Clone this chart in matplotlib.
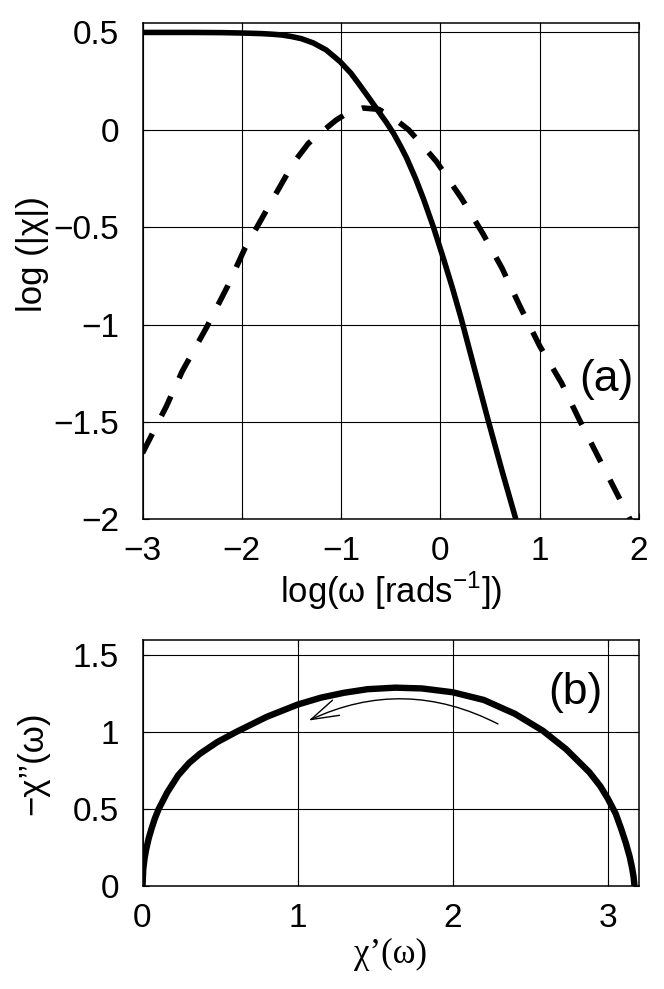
import matplotlib
matplotlib.use("Agg")
import matplotlib.pyplot as plt

plt.rcParams['font.family'] = ['Liberation Sans', 'DejaVu Sans']
plt.rcParams['axes.unicode_minus'] = True

# panel (a): log|chi| (solid) and log chi'' (dashed) against log omega
logw_abs = [-3.0, -2.5, -2.2, -2.0, -1.8, -1.7, -1.6, -1.5, -1.4, -1.28, -1.15, -1.01, -0.9,
            -0.81, -0.7, -0.61, -0.54, -0.47, -0.40, -0.34, -0.25, -0.17, -0.07, 0.03, 0.12,
            0.21, 0.35, 0.48, 0.62, 0.76]
logchi_abs = [0.500, 0.500, 0.499, 0.497, 0.494, 0.491, 0.487, 0.479, 0.468, 0.446, 0.41, 0.35,
              0.29, 0.228, 0.15, 0.085, 0.035, -0.02, -0.085, -0.145, -0.25, -0.355, -0.50,
              -0.66, -0.81, -0.97, -1.24, -1.49, -1.75, -2.00]

logw_im = [-3.0, -2.94, -2.76, -2.60, -2.35, -2.14, -1.97, -1.72, -1.48, -1.33, -1.21, -1.05,
           -0.94, -0.78, -0.62, -0.47, -0.32, -0.18, -0.04, 0.21, 0.43, 0.62, 0.80, 1.0,
           1.22, 1.40, 1.61, 1.81, 1.91, 2.0]
logchi_im = [-1.66, -1.60, -1.42, -1.24, -1.01, -0.80, -0.61, -0.385, -0.17, -0.07, -0.017, 0.05,
             0.085, 0.112, 0.105, 0.06, 0.0, -0.08, -0.163, -0.35, -0.535, -0.71, -0.905, -1.11,
             -1.30, -1.49, -1.70, -1.90, -2.0, -2.09]

# panel (b): Cole-Cole plot
chi_re = [0.0, 0.005, 0.013, 0.023, 0.04, 0.058, 0.08, 0.104, 0.16, 0.23, 0.30, 0.37, 0.48,
          0.60, 0.80, 1.0, 1.15, 1.30, 1.45, 1.63, 1.80, 2.0, 2.2, 2.4, 2.58, 2.73, 2.88,
          2.95, 3.0, 3.05, 3.085, 3.115, 3.14, 3.155, 3.165, 3.171]
chi_im = [0.0, 0.11, 0.177, 0.235, 0.31, 0.372, 0.44, 0.50, 0.61, 0.72, 0.80, 0.86, 0.935,
          1.0, 1.10, 1.18, 1.225, 1.257, 1.28, 1.29, 1.285, 1.26, 1.21, 1.12, 1.01, 0.89, 0.74,
          0.65, 0.567, 0.47, 0.372, 0.28, 0.19, 0.12, 0.06, 0.0]


def style_axes(ax):
    ax.grid(True, color='black', linewidth=0.8)
    ax.tick_params(direction='in', length=4, width=0.8, top=True, right=True, labelsize=24)
    ax.tick_params(axis='x', pad=12)
    ax.tick_params(axis='y', pad=17)
    for s in ax.spines.values():
        s.set_linewidth(1.1)


fig = plt.figure(figsize=(6.64, 9.89), dpi=100)

ax1 = fig.add_axes([142.5 / 664, 1 - 519.3 / 989, (639 - 142.5) / 664, (519.3 - 22.7) / 989])
ax1.plot(logw_abs, logchi_abs, color='black', linewidth=4.0, solid_capstyle='butt',
         solid_joinstyle='round')
ax1.plot(logw_im, logchi_im, color='black', linewidth=4.0, linestyle=(0, (3.9, 3.6)))
ax1.set_xlim(-3, 2)
ax1.set_ylim(-2, 0.55)
ax1.set_xticks([-3, -2, -1, 0, 1, 2])
ax1.set_yticks([-2, -1.5, -1, -0.5, 0, 0.5])
ax1.set_yticklabels(['\u22122', '\u22121.5', '\u22121', '\u22120.5', '0', '0.5'])
ax1.set_xticklabels(['\u22123', '\u22122', '\u22121', '0', '1', '2'])
style_axes(ax1)
ax1.set_xlabel('log(\u03c9 [rads$^{\\mathregular{\u22121}}$])', fontsize=25, va='center')
ax1.xaxis.set_label_coords(0.5, -0.145)
ax1.set_ylabel('log (|\u03c7|)', fontsize=25, va='center')
ax1.yaxis.set_label_coords(-0.222, 0.535)
ax1.text(1.675, -1.283, '(a)', fontsize=32, ha='center', va='center')

ax2 = fig.add_axes([142.5 / 664, 1 - 886 / 989, (639 - 142.5) / 664, (886 - 640) / 989])
ax2.plot(chi_re, chi_im, color='black', linewidth=4.6, solid_capstyle='butt',
         solid_joinstyle='round')
ax2.set_xlim(0, 3.2)
ax2.set_ylim(0, 1.6)
ax2.set_xticks([0, 1, 2, 3])
ax2.set_yticks([0, 0.5, 1, 1.5])
ax2.set_yticklabels(['0', '0.5', '1', '1.5'])
style_axes(ax2)
ax2.set_xlabel('\u03c7\u2019(\u03c9)', fontsize=25, family='Liberation Serif', va='center')
ax2.xaxis.set_label_coords(0.5, -0.28)
ax2.set_ylabel('\u2212\u03c7\u2019\u2019(\u03c9)', fontsize=25, va='center')
ax2.yaxis.set_label_coords(-0.222, 0.5)
ax2.text(2.79, 1.26, '(b)', fontsize=32, ha='center', va='center')
ax2.annotate('', xy=(1.071, 1.076), xytext=(2.291, 1.054),
             arrowprops=dict(arrowstyle='->,head_length=1.0,head_width=0.3',
                             connectionstyle='arc3,rad=0.245', color='black',
                             linewidth=1.0, mutation_scale=20, shrinkA=0, shrinkB=0))

fig.savefig('out.png', dpi=100)
